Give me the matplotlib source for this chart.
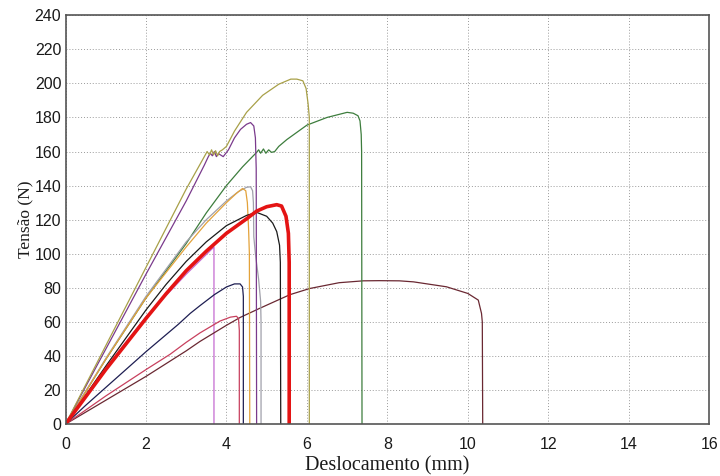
import matplotlib
matplotlib.use("Agg")
import matplotlib.pyplot as plt

# ---- data (displacement mm, tension N) ----
olive_x = [0, 1, 2, 3, 3.45, 3.52, 3.58, 3.63, 3.68, 3.73, 3.78, 3.83, 3.9, 4.0, 4.2, 4.5, 4.9, 5.3, 5.6, 5.75, 5.9, 5.98, 6.03, 6.06, 6.06]
olive_y = [0, 46, 92, 138, 157, 160, 158, 161, 158, 160.5, 157.5, 160, 161, 163, 172, 183, 193, 199.5, 202.5, 202.5, 201.5, 197, 188, 180, 0]

purple_x = [0, 1, 2, 3, 3.45, 3.55, 3.6, 3.65, 3.7, 3.75, 3.8, 3.92, 4.05, 4.2, 4.35, 4.5, 4.6, 4.68, 4.72, 4.74, 4.75]
purple_y = [0, 44, 88, 131, 152, 157, 159, 157.5, 160, 157, 158.8, 157, 161, 168, 173, 176, 177, 175, 168, 150, 0]

green_x = [0, 1, 2, 3, 3.5, 4, 4.4, 4.75, 4.8, 4.85, 4.92, 4.98, 5.05, 5.12, 5.2, 5.3, 5.5, 6.0, 6.5, 7.0, 7.15, 7.27, 7.32, 7.35, 7.36, 7.37]
green_y = [0, 38, 74, 106, 124, 140, 151, 159.5, 161, 159, 161.5, 159, 161, 159.5, 160, 163, 167, 175.5, 180, 183, 182.5, 181, 178, 170, 160, 0]

gray_x = [0, 1, 2, 3, 3.5, 4, 4.3, 4.5, 4.6, 4.65, 4.67, 4.68, 4.72, 4.8, 4.85, 4.86, 4.86]
gray_y = [0, 38.5, 75, 107, 120, 131, 136.5, 139, 139.3, 137, 130, 110, 100, 85, 72, 60, 0]

orange_x = [0, 1, 2, 3, 3.5, 4, 4.25, 4.4, 4.48, 4.52, 4.55, 4.57, 4.58]
orange_y = [0, 38, 74, 104, 118, 130, 135.5, 138.3, 137, 130, 115, 100, 0]

black_x = [0, 1, 2, 2.5, 3, 3.5, 4, 4.5, 4.75, 5.0, 5.15, 5.25, 5.32, 5.34, 5.35]
black_y = [0, 34, 67, 82, 95.5, 107, 116.5, 122.5, 124.3, 122, 118, 113, 105, 95, 0]

red_x = [0, 0.5, 1, 2, 2.5, 3, 3.5, 4, 4.5, 4.75, 5.0, 5.25, 5.37, 5.48, 5.54, 5.56, 5.56]
red_y = [0, 16, 32, 62, 76.5, 90, 101.5, 112, 120.5, 125, 127.6, 128.8, 128, 122, 112, 95, 0]

magenta_x = [0, 1, 2, 3, 3.69, 3.69]
magenta_y = [0, 33, 63, 88, 104, 0]

navy_x = [0, 0.5, 1, 1.5, 2, 2.5, 2.8, 3.1, 3.34, 3.7, 4.0, 4.2, 4.34, 4.4, 4.42, 4.42]
navy_y = [0, 11, 21.5, 32, 42.5, 52.5, 58.5, 65, 69.5, 76, 80.5, 82.3, 82.3, 80.5, 75, 0]

pink_x = [0, 1, 2, 2.6, 3, 3.34, 3.84, 4.1, 4.25, 4.3, 4.32, 4.32]
pink_y = [0, 16.5, 32, 41, 48, 53.5, 60.5, 62.8, 63.3, 62, 55, 0]

brown_x = [0, 1, 2, 3, 3.34, 4, 4.34, 4.83, 5.58, 6.07, 6.8, 7.4, 7.8, 8.3, 8.65, 9.47, 10.0, 10.26, 10.34, 10.36, 10.37]
brown_y = [0, 14, 28, 43, 48.5, 58, 62.6, 68, 76, 79.6, 83, 84.1, 84.2, 84.1, 83.5, 80.6, 76.7, 72.8, 65, 60, 0]

x_ticks = [0, 2, 4, 6, 8, 10, 12, 14, 16]
y_ticks = [0, 20, 40, 60, 80, 100, 120, 140, 160, 180, 200, 220, 240]

# ---- figure ----
fig = plt.figure(figsize=(7.2, 4.76), dpi=100)
ax = fig.add_axes([0.091, 0.109, 0.894, 0.859])

ax.grid(True, color='#9a9a9a', linestyle=(0, (1, 2)), linewidth=0.7)
ax.set_axisbelow(True)

thin = 0.9
ax.plot(magenta_x, magenta_y, color='#c56ad0', lw=thin)
ax.plot(brown_x, brown_y, color='#6a2832', lw=thin)
ax.plot(pink_x, pink_y, color='#c8405e', lw=thin)
ax.plot(navy_x, navy_y, color='#1e1e52', lw=thin)
ax.plot(green_x, green_y, color='#3d7d3d', lw=thin)
ax.plot(gray_x, gray_y, color='#a0a0aa', lw=thin)
ax.plot(orange_x, orange_y, color='#e3a23a', lw=thin)
ax.plot(purple_x, purple_y, color='#7a3a8c', lw=thin)
ax.plot(olive_x, olive_y, color='#a8a048', lw=thin)
ax.plot(black_x, black_y, color='#1a1a1a', lw=thin)
ax.plot(red_x, red_y, color='#e41414', lw=2.6, solid_joinstyle='round')

ax.set_xlim(0, 16)
ax.set_ylim(0, 240)
ax.set_xticks(x_ticks)
ax.set_yticks(y_ticks)
ax.set_xticklabels([str(v) for v in x_ticks])
ax.set_yticklabels([str(v) for v in y_ticks])
ax.tick_params(length=0, labelsize=11.5)
ax.tick_params(axis='x', pad=9)
ax.tick_params(axis='y', pad=3)
for lab in ax.get_xticklabels() + ax.get_yticklabels():
    lab.set_family(['Liberation Sans', 'DejaVu Sans'])
    lab.set_color('#1a1a1a')

for s in ax.spines.values():
    s.set_color('#555555')
    s.set_linewidth(1.2)

ax.set_xlabel('Deslocamento (mm)', family=['Liberation Serif', 'DejaVu Serif'], fontsize=14.5, labelpad=3, color='#1a1a1a')
ax.set_ylabel('Tensão (N)', family=['Liberation Serif', 'DejaVu Serif'], fontsize=12.5, labelpad=1, color='#1a1a1a')

fig.savefig('out.png', dpi=100, facecolor='white')
